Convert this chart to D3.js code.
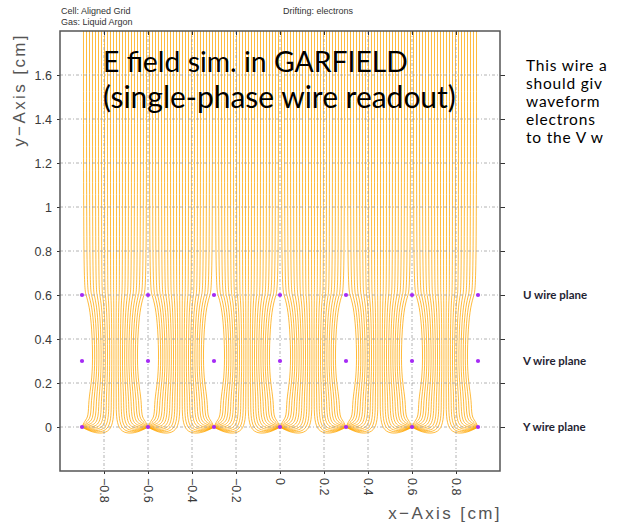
<!DOCTYPE html>
<html>
<head>
<meta charset="utf-8">
<script src="https://cdn.jsdelivr.net/npm/d3@7"></script>
<style>
  body { margin: 0; background: #fff; }
  svg { display: block; }
</style>
</head>
<body>
<svg id="chart" width="619" height="526"></svg>
<script>
// wire positions in cm
var wireX = [-0.9, -0.6, -0.3, 0, 0.3, 0.6, 0.9];
var planeY = [0.6, 0.3, 0];
var planeNames = ["U wire plane", "V wire plane", "Y wire plane"];
var xTicks = [-0.8, -0.6, -0.4, -0.2, 0, 0.2, 0.4, 0.6, 0.8];
var yTicks = [0, 0.2, 0.4, 0.6, 0.8, 1, 1.2, 1.4, 1.6];

// where the drift lines start inside one cell (cm right of the left wire)
var lineOffsets = [0.0068, 0.0205, 0.0341, 0.0477, 0.0614, 0.075, 0.0886, 0.1023,
                   0.1159, 0.1295, 0.1432, 0.1568, 0.1705, 0.1841, 0.1977, 0.2114,
                   0.225, 0.2386, 0.2523, 0.2659, 0.2795, 0.2932];
// half width of the empty channel round each wire column, read by height
var profileY = [1.8, 0.64, 0.6, 0.55, 0.45, 0.3, 0.2, 0.12];
var gapHalf  = [0,   0,    0.012, 0.028, 0.04, 0.045, 0.038, 0.024];

var headerLeft = ["Cell: Aligned Grid", "Gas: Liquid Argon"];
var headerRight = "Drifting: electrons";
var titleLines = ["E field sim. in GARFIELD", "(single-phase wire readout)"];
var sideLines = ["This wire a", "should giv", "waveform", "electrons", "to the V w"];

var svg = d3.select("#chart");
var x = d3.scaleLinear().domain([-1, 1]).range([60, 500]);
var y = d3.scaleLinear().domain([-0.2, 1.8]).range([471, 31]);

function fit(sel, w) {
  var l = sel.node().getComputedTextLength();
  var fs = parseFloat(sel.attr("font-size"));
  sel.attr("font-size", fs * w / l);
}

// drift lines
var line = d3.line()
    .x(function(d) { return x(d[0]); })
    .y(function(d) { return y(d[1]); })
    .curve(d3.curveBasis);

var paths = [];
for (var i = 0; i < wireX.length - 1; i++) {
  var a = wireX[i], b = wireX[i + 1], cw = b - a, half = cw / 2;
  lineOffsets.forEach(function(off) {
    var pts = profileY.map(function(yy, k) {
      var g = gapHalf[k];
      return [a + g + off / cw * (cw - 2 * g), yy];
    });
    var w = off < half ? a : b;
    var xb = pts[pts.length - 1][0];
    var dmin = gapHalf[gapHalf.length - 1];
    var f = Math.max(0, Math.min(1, (Math.abs(xb - w) - dmin) / (half - dmin)));
    pts.push([xb, 0.05 - 0.08 * f]);
    pts.push([w + (xb - w) * 0.4, 0.03 - 0.065 * f]);
    pts.push([w, 0]);
    paths.push(pts);
  });
}

svg.append("g").attr("class", "drift")
  .selectAll("path")
  .data(paths)
  .enter().append("path")
  .attr("d", line)
  .attr("fill", "none")
  .attr("stroke", "#ffa500")
  .attr("stroke-width", 0.9)
  .attr("stroke-opacity", 0.85);

// grid
var grid = svg.append("g").attr("class", "grid")
  .attr("stroke", "#a0a0a0").attr("stroke-width", 0.8)
  .attr("stroke-dasharray", "3,2,1,2");
grid.selectAll(".gy").data(yTicks).enter().append("line")
  .attr("x1", 60).attr("x2", 500)
  .attr("y1", function(d) { return y(d); }).attr("y2", function(d) { return y(d); });
grid.selectAll(".gx").data(xTicks).enter().append("line")
  .attr("y1", 31).attr("y2", 471)
  .attr("x1", function(d) { return x(d); }).attr("x2", function(d) { return x(d); });

// wires
var wires = [];
planeY.forEach(function(py) { wireX.forEach(function(wx) { wires.push([wx, py]); }); });
svg.append("g").selectAll("circle")
  .data(wires)
  .enter().append("circle")
  .attr("cx", function(d) { return x(d[0]); })
  .attr("cy", function(d) { return y(d[1]); })
  .attr("r", 2.1)
  .attr("fill", "#a52af5");

// axes
var axisFont = "'Liberation Sans', Arial, sans-serif";
var fmt = d3.format("");
svg.append("g").attr("transform", "translate(60,0)")
  .call(d3.axisLeft(y).tickValues(yTicks).tickSize(3).tickPadding(5).tickFormat(fmt));
var xAxis = svg.append("g").attr("transform", "translate(0,471)")
  .call(d3.axisBottom(x).tickValues(xTicks).tickSize(3).tickFormat(fmt));
xAxis.selectAll("text")
  .attr("transform", "rotate(90)")
  .attr("x", 7).attr("y", 0).attr("dy", "0.35em")
  .style("text-anchor", "start");
svg.append("g").attr("transform", "translate(500,0)")
  .call(d3.axisLeft(y).tickValues(yTicks).tickSize(-5).tickFormat(""));
svg.append("g").attr("transform", "translate(0,31)")
  .call(d3.axisBottom(x).tickValues(xTicks).tickSize(4).tickFormat(""));
svg.selectAll(".domain").remove();
svg.selectAll(".tick line").attr("stroke", "#333");
svg.selectAll(".tick text")
  .attr("font-family", axisFont).attr("font-size", 12.5).attr("fill", "#3a3a3a");

svg.append("rect")
  .attr("x", 60).attr("y", 31).attr("width", 440).attr("height", 440)
  .attr("fill", "none").attr("stroke", "#555").attr("stroke-width", 1.5);

// axis titles
svg.append("text")
  .attr("transform", "translate(25,33) rotate(-90)")
  .attr("text-anchor", "end")
  .attr("font-family", axisFont).attr("font-size", 17).attr("letter-spacing", 2.4)
  .attr("fill", "#555")
  .text("y\u2212Axis [cm]");
svg.append("text")
  .attr("x", 502).attr("y", 519)
  .attr("text-anchor", "end")
  .attr("font-family", axisFont).attr("font-size", 17).attr("letter-spacing", 2.4)
  .attr("fill", "#555")
  .text("x\u2212Axis [cm]");

// header
svg.selectAll(".hl").data(headerLeft).enter().append("text")
  .attr("x", 61).attr("y", function(d, i) { return 14 + i * 11; })
  .attr("font-family", axisFont).attr("font-size", 9).attr("fill", "#333")
  .text(function(d) { return d; });
svg.append("text")
  .attr("x", 283).attr("y", 14)
  .attr("font-family", axisFont).attr("font-size", 9).attr("fill", "#333")
  .text(headerRight);

// slide text over the plot
var slideFont = "Lato, 'Open Sans', sans-serif";
var titleW = [305, 353];
titleLines.forEach(function(t, i) {
  var tx = svg.append("text")
    .attr("x", 103).attr("y", 72 + i * 36)
    .attr("font-family", slideFont).attr("font-size", 26).attr("fill", "#000")
    .text(t);
  fit(tx, titleW[i]);
});

var side = svg.append("g");
sideLines.forEach(function(t, i) {
  side.append("text")
    .attr("x", 526).attr("y", 71 + i * 18)
    .attr("font-family", slideFont).attr("font-size", 15.5)
    .attr("letter-spacing", 0.8).attr("fill", "#000")
    .text(t);
});

svg.selectAll(".pl").data(planeNames).enter().append("text")
  .attr("x", 523)
  .attr("y", function(d, i) { return y(planeY[i]) + 3.5; })
  .attr("font-family", slideFont).attr("font-size", 11.5).attr("font-weight", 700)
  .attr("fill", "#1f2433")
  .text(function(d) { return d; });
</script>
</body>
</html>
